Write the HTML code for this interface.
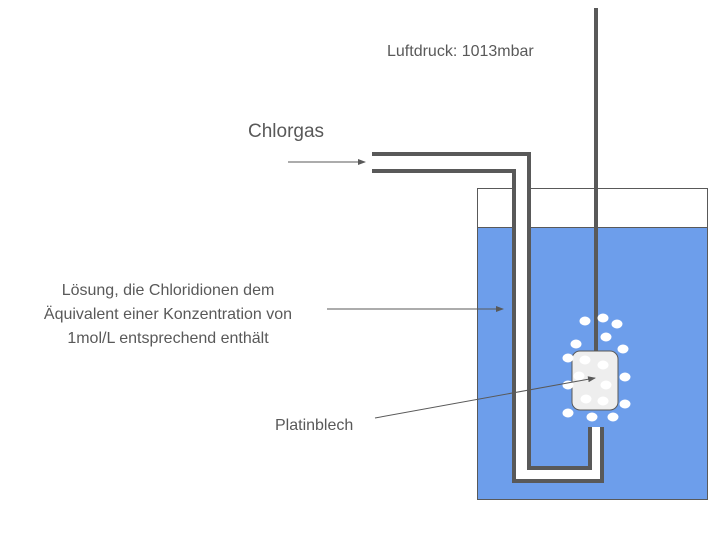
<!DOCTYPE html>
<html><head><meta charset="utf-8"><style>body{margin:0;background:#fff}svg{display:block}</style></head><body>
<svg width="717" height="537" viewBox="0 0 717 537" xmlns="http://www.w3.org/2000/svg" font-family="Liberation Sans, sans-serif" fill="#595959">
<defs><marker id="a" markerWidth="8" markerHeight="6" refX="7" refY="3" orient="auto" markerUnits="userSpaceOnUse"><path d="M0,0L8,3L0,6z" fill="#595959"/></marker></defs>
<rect x="477.5" y="188.5" width="230" height="311" fill="#fff" stroke="#595959"/>
<rect x="477.5" y="227.5" width="230" height="272" fill="#6d9eeb" stroke="#595959"/>
<polyline points="372,162.5 521.5,162.5 521.5,474.5 596,474.5 596,427" fill="none" stroke="#fff" stroke-width="14"/>
<polyline points="372,154 529,154 529,468 590,468 590,427" fill="none" stroke="#595959" stroke-width="4"/>
<polyline points="372,171 514,171 514,481 602,481 602,427" fill="none" stroke="#595959" stroke-width="4"/>
<line x1="596" y1="8" x2="596" y2="352" stroke="#595959" stroke-width="4"/>
<rect x="572" y="351" width="46" height="59" rx="8" fill="#eeeeee" stroke="#595959"/>
<g fill="#fff">
<ellipse cx="585" cy="321" rx="5.5" ry="4.5"/><ellipse cx="603" cy="318" rx="5.5" ry="4.5"/><ellipse cx="617" cy="324" rx="5.5" ry="4.5"/>
<ellipse cx="576" cy="344" rx="5.5" ry="4.5"/><ellipse cx="606" cy="337" rx="5.5" ry="4.5"/><ellipse cx="623" cy="349" rx="5.5" ry="4.5"/>
<ellipse cx="568" cy="358" rx="5.5" ry="4.5"/><ellipse cx="585" cy="360" rx="5.5" ry="4.5"/><ellipse cx="603" cy="365" rx="5.5" ry="4.5"/>
<ellipse cx="579" cy="376" rx="5.5" ry="4.5"/><ellipse cx="568" cy="385" rx="5.5" ry="4.5"/><ellipse cx="606" cy="385" rx="5.5" ry="4.5"/>
<ellipse cx="625" cy="377" rx="5.5" ry="4.5"/><ellipse cx="586" cy="399" rx="5.5" ry="4.5"/><ellipse cx="603" cy="401" rx="5.5" ry="4.5"/>
<ellipse cx="625" cy="404" rx="5.5" ry="4.5"/><ellipse cx="568" cy="413" rx="5.5" ry="4.5"/><ellipse cx="592" cy="417" rx="5.5" ry="4.5"/><ellipse cx="613" cy="417" rx="5.5" ry="4.5"/>
</g>
<g stroke="#595959" stroke-width="1" marker-end="url(#a)">
<line x1="288" y1="162" x2="365" y2="162"/>
<line x1="327" y1="309" x2="503" y2="309"/>
<line x1="375" y1="418" x2="595" y2="378"/>
</g>
<text x="387" y="56" font-size="16">Luftdruck: 1013mbar</text>
<text x="248" y="137" font-size="19">Chlorgas</text>
<g font-size="16" text-anchor="middle">
<text x="168" y="295">Lösung, die Chloridionen dem</text>
<text x="168" y="319">Äquivalent einer Konzentration von</text>
<text x="168" y="343">1mol/L entsprechend enthält</text>
</g>
<text x="275" y="430" font-size="16">Platinblech</text>
</svg>
</body></html>
